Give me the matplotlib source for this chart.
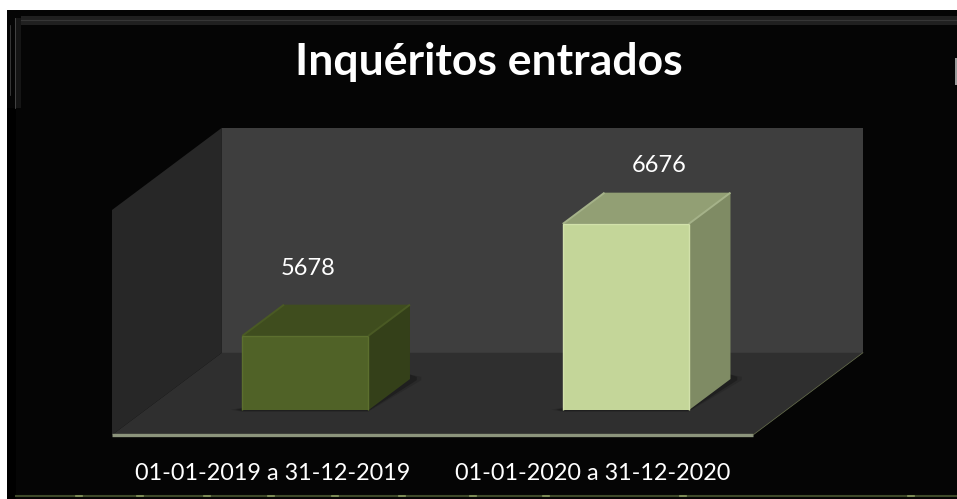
import matplotlib
matplotlib.use('Agg')
import matplotlib.pyplot as plt
from matplotlib.patches import Polygon, Rectangle

title = 'Inquéritos entrados'
categories = ['01-01-2019 a 31-12-2019', '01-01-2020 a 31-12-2020']
values = [5678, 6676]
front_colors = ['#506227', '#c4d699']
top_colors = ['#3f4d1e', '#929f74']
side_colors = ['#344019', '#7f8b64']
edge_colors = ['#5c6f2e', '#d2e1aa']
top_edge_colors = ['#4a5a24', '#a5b289']

W, H = 957, 499
# oblique 3d: depth 1 means the back wall
depth_x = 0.343
depth_y = 733
bar_w = 0.393
bar_d0, bar_d1 = 0.30, 0.68
y_min, y_max = 5015, 7020
x_min, x_max = -0.5, 1.5
# excel put the data labels a bit off the bar centres
label_dx = [0.008, 0.105]
label_dy = [605, 525]

plt.rcParams['font.family'] = ['Lato', 'DejaVu Sans']

fig = plt.figure(figsize=(W / 100, H / 100), dpi=100, facecolor='#050505')
ax = fig.add_axes([112 / W, 1 - 435 / H, 641 / W, 225 / H])
ax.set_xlim(x_min, x_max)
ax.set_ylim(y_min, y_max)
ax.axis('off')


def pt(x, y, d=0):
    return (x + d * depth_x, y + d * depth_y)


def face(points, color, z):
    ax.add_patch(Polygon(points, closed=True, facecolor=color, edgecolor='none', clip_on=False, zorder=z))


# walls and floor
face([pt(x_min, y_min, 1), pt(x_max, y_min, 1), pt(x_max, y_max, 1), pt(x_min, y_max, 1)], '#3e3e3e', 1)
face([pt(x_min, y_min), pt(x_min, y_min, 1), pt(x_min, y_max, 1), pt(x_min, y_max)], '#272727', 1)
face([pt(x_min, y_min), pt(x_max, y_min), pt(x_max, y_min, 1), pt(x_min, y_min, 1)], '#2f2f2f', 1)
ax.plot([x_min, x_max], [y_min, y_min], color='#8c947c', lw=2.4, clip_on=False, zorder=2, solid_capstyle='butt')
ax.plot(*zip(pt(x_max, y_min), pt(x_max, y_min, 1)), color='#6b7350', lw=0.5, clip_on=False, zorder=2)

# bars
for i, v in enumerate(values):
    l, r = i - bar_w / 2, i + bar_w / 2
    # soft shadow at the foot
    for grow, col in [(1.0, '#292929'), (0.6, '#1f1f1f')]:
        face([pt(l - 0.035 * grow, y_min + 5, bar_d0), pt(l, y_min - 12 * grow, bar_d0),
              pt(r, y_min - 12 * grow, bar_d0), pt(r + 0.035 * grow, y_min - 10, bar_d1),
              pt(r + 0.035 * grow, y_min + 20, bar_d1), pt(r, y_min + 40, bar_d1)], col, 3)
    face([pt(l, v, bar_d0), pt(r, v, bar_d0), pt(r, v, bar_d1), pt(l, v, bar_d1)], top_colors[i], 4)
    face([pt(r, y_min, bar_d0), pt(r, y_min, bar_d1), pt(r, v, bar_d1), pt(r, v, bar_d0)], side_colors[i], 4)
    face([pt(l, y_min, bar_d0), pt(r, y_min, bar_d0), pt(r, v, bar_d0), pt(l, v, bar_d0)], front_colors[i], 5)
    # bevel
    for a, b in [(pt(l, v, bar_d0), pt(r, v, bar_d0)), (pt(r, v, bar_d0), pt(r, y_min, bar_d0)),
                 (pt(l, v, bar_d0), pt(l, y_min, bar_d0))]:
        ax.plot(*zip(a, b), color=edge_colors[i], lw=1, clip_on=False, zorder=6, solid_capstyle='butt')
    for a, b in [(pt(r, v, bar_d0), pt(r, v, bar_d1)), (pt(l, v, bar_d0), pt(l, v, bar_d1))]:
        ax.plot(*zip(a, b), color=top_edge_colors[i], lw=1.4, clip_on=False, zorder=4.5, solid_capstyle='butt')
    lx, ly = pt(i, v, bar_d0)
    ax.text(lx + label_dx[i], ly + label_dy[i], str(v), color='white', fontsize=17, ha='center', va='center', zorder=7)
    ax.text(i, y_min - 345, categories[i], color='white', fontsize=16.8, ha='center', va='center', zorder=7)

fig.text(489 / W, 1 - 62 / H, title, color='white', fontsize=32, fontweight='bold', ha='center', va='center')

# picture frame around the chart
fig.patches.append(Rectangle((0, 1 - 10 / H), 1, 10 / H, transform=fig.transFigure, facecolor='white', edgecolor='none'))
fig.patches.append(Rectangle((0, 0), 7 / W, 1, transform=fig.transFigure, facecolor='white', edgecolor='none'))
fig.patches.append(Rectangle((21 / W, 1 - 25 / H), 1 - 21 / W, 9 / H, transform=fig.transFigure, facecolor='#202020', edgecolor='none'))
fig.patches.append(Rectangle((15 / W, 1 - 108 / H), 6 / W, 90 / H, transform=fig.transFigure, facecolor='#151515', edgecolor='none'))
fig.patches.append(Rectangle((7 / W, 0), 9 / W, 1 - 108 / H, transform=fig.transFigure, facecolor='#000000', edgecolor='none'))
fig.patches.append(Rectangle((955 / W, 1 - 85 / H), 2 / W, 27 / H, transform=fig.transFigure, facecolor='#9a9a9a', edgecolor='none'))
fig.add_artist(plt.Line2D([21 / W, 1], [1 - 19.5 / H, 1 - 19.5 / H], color='#363636', lw=0.8))
fig.add_artist(plt.Line2D([14.5 / W, 14.5 / W], [1 - 108 / H, 1 - 18 / H], color='#4a4a4a', lw=0.6))
fig.add_artist(plt.Line2D([9.5 / W, 9.5 / W], [1 - 95 / H, 1 - 25 / H], color='#4a4a4a', lw=0.5))
fig.add_artist(plt.Line2D([16 / W, 1], [1 - 496 / H, 1 - 496 / H], color='#3f4a2a', lw=1.5))
for tx in [76, 137, 204, 268, 332, 399, 470, 543, 680, 908]:
    fig.add_artist(plt.Line2D([tx / W, (tx + 6) / W], [1 - 496 / H, 1 - 496 / H], color='#8a9a60', lw=1.2))

fig.savefig('out.png', dpi=100, facecolor=fig.get_facecolor())
